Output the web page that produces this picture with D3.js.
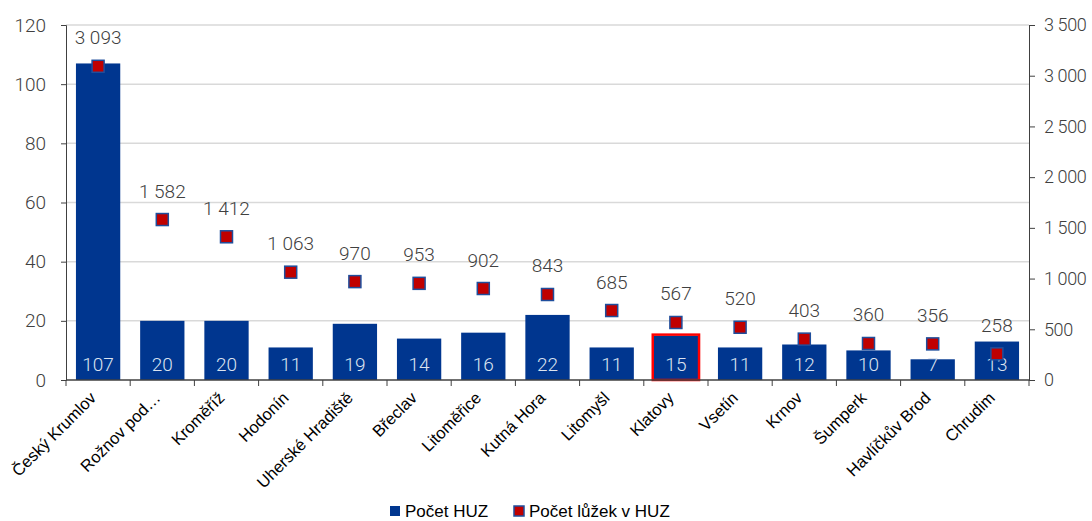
<!DOCTYPE html>
<html>
<head>
<meta charset="utf-8">
<script src="https://cdn.jsdelivr.net/npm/d3@7"></script>
<style>
  body { margin: 0; background: #fff; }
  .num { font-family: Roboto, "Liberation Sans", sans-serif; font-weight: 300; }
  .cat { font-family: "Liberation Sans", Arial, sans-serif; }
</style>
</head>
<body>
<div id="chart"></div>
<script>
const towns = ["Český Krumlov", "Rožnov pod…", "Kroměříž", "Hodonín", "Uherské Hradiště", "Břeclav", "Litoměřice", "Kutná Hora", "Litomyšl", "Klatovy", "Vsetín", "Krnov", "Šumperk", "Havlíčkův Brod", "Chrudim"];
const huzCount = [107, 20, 20, 11, 19, 14, 16, 22, 11, 15, 11, 12, 10, 7, 13];
const bedCount = [3093, 1582, 1412, 1063, 970, 953, 902, 843, 685, 567, 520, 403, 360, 356, 258];
const leftTicks = [0, 20, 40, 60, 80, 100, 120];
const rightTicks = [0, 500, 1000, 1500, 2000, 2500, 3000, 3500];
const highlighted = "Klatovy";

const width = 1092, height = 521;
const margin = { top: 25, right: 63, bottom: 141, left: 66 };
const innerW = width - margin.left - margin.right;
const innerH = height - margin.top - margin.bottom;

const data = towns.map((t, i) => ({ name: t, huz: huzCount[i], beds: bedCount[i] }));

const svg = d3.select("#chart").append("svg")
  .attr("width", width)
  .attr("height", height);

const g = svg.append("g")
  .attr("transform", "translate(" + margin.left + "," + margin.top + ")");

const x = d3.scaleBand()
  .domain(towns)
  .range([0, innerW])
  .paddingInner(0.31)
  .paddingOuter(0.155);

const y = d3.scaleLinear().domain([0, 120]).range([innerH, 0]);
const y2 = d3.scaleLinear().domain([0, 3500]).range([innerH, 0]);

const fmt = v => d3.format(",")(v).replace(/,/g, " ");

// gridlines
g.selectAll(".grid")
  .data(leftTicks.filter(d => d > 0))
  .enter().append("line")
  .attr("x1", 0).attr("x2", innerW)
  .attr("y1", d => y(d)).attr("y2", d => y(d))
  .attr("stroke", "#d9d9d9")
  .attr("stroke-width", 1.5);

// bars
g.selectAll(".bar")
  .data(data)
  .enter().append("rect")
  .attr("class", "bar")
  .attr("x", d => x(d.name))
  .attr("y", d => y(d.huz))
  .attr("width", x.bandwidth())
  .attr("height", d => innerH - y(d.huz))
  .attr("fill", "#00368f");

// highlight frame
const hl = data.find(d => d.name === highlighted);
g.append("rect")
  .attr("x", x(hl.name) - 1)
  .attr("y", y(hl.huz) - 1)
  .attr("width", x.bandwidth() + 2)
  .attr("height", innerH - y(hl.huz) + 1)
  .attr("fill", "none")
  .attr("stroke", "#ff0000")
  .attr("stroke-width", 2.5);

// bar labels
g.selectAll(".barlabel")
  .data(data)
  .enter().append("text")
  .attr("class", "num")
  .attr("x", d => x(d.name) + x.bandwidth() / 2)
  .attr("y", innerH - 9)
  .attr("text-anchor", "middle")
  .attr("fill", "#dbe3f0")
  .style("font-size", "19px")
  .text(d => d.huz);

// markers
const ms = 12;
g.selectAll(".marker")
  .data(data)
  .enter().append("rect")
  .attr("x", d => x(d.name) + x.bandwidth() / 2 - ms / 2)
  .attr("y", d => y2(d.beds) - ms / 2)
  .attr("width", ms)
  .attr("height", ms)
  .attr("fill", "#c00000")
  .attr("stroke", "#1f4e9c")
  .attr("stroke-width", 1.5);

// marker labels
g.selectAll(".bedlabel")
  .data(data)
  .enter().append("text")
  .attr("class", "num")
  .attr("x", d => x(d.name) + x.bandwidth() / 2)
  .attr("y", d => y2(d.beds) - 22)
  .attr("text-anchor", "middle")
  .attr("fill", "#404040")
  .style("font-size", "19px")
  .text(d => fmt(d.beds));

// left axis
const leftAxis = g.append("g")
  .call(d3.axisLeft(y).tickValues(leftTicks).tickSize(5).tickPadding(15));
leftAxis.selectAll("text").attr("class", "num").style("font-size", "19px").attr("fill", "#404040");
leftAxis.selectAll("line, path").attr("stroke", "#404040");

// right axis
const rightAxis = g.append("g")
  .attr("transform", "translate(" + innerW + ",0)")
  .call(d3.axisRight(y2).tickValues(rightTicks).tickSize(6).tickPadding(9).tickFormat(fmt));
rightAxis.selectAll("text").attr("class", "num")
  .style("font-size", "18px")
  .style("letter-spacing", "-0.4px")
  .attr("fill", "#404040");
rightAxis.selectAll("line, path").attr("stroke", "#404040");

// bottom axis
const step = x.step();
const bottom = g.append("g").attr("transform", "translate(0," + innerH + ")");
bottom.append("line")
  .attr("x1", 0).attr("x2", innerW)
  .attr("stroke", "#404040").attr("stroke-width", 1.5);
bottom.selectAll(".tick")
  .data(d3.range(towns.length + 1))
  .enter().append("line")
  .attr("x1", i => i * step).attr("x2", i => i * step)
  .attr("y1", 0).attr("y2", 6)
  .attr("stroke", "#404040");

bottom.selectAll(".catlabel")
  .data(towns)
  .enter().append("text")
  .attr("class", "cat")
  .attr("text-anchor", "end")
  .attr("transform", d => "translate(" + (x(d) + x.bandwidth() / 2 - 1) + ",19) rotate(-45)")
  .attr("fill", "#000")
  .style("font-size", "16.5px")
  .text(d => d);

// legend
const legend = svg.append("g").attr("transform", "translate(0," + 512 + ")");
legend.append("rect")
  .attr("x", 390).attr("y", -6).attr("width", 10).attr("height", 10)
  .attr("fill", "#00368f");
legend.append("text")
  .attr("class", "cat")
  .attr("x", 405).attr("y", 5)
  .style("font-size", "17px")
  .text("Počet HUZ");
legend.append("rect")
  .attr("x", 514).attr("y", -6).attr("width", 10).attr("height", 10)
  .attr("fill", "#c00000")
  .attr("stroke", "#1f4e9c")
  .attr("stroke-width", 1.5);
legend.append("text")
  .attr("class", "cat")
  .attr("x", 529).attr("y", 5)
  .style("font-size", "17px")
  .text("Počet lůžek v HUZ");
</script>
</body>
</html>
